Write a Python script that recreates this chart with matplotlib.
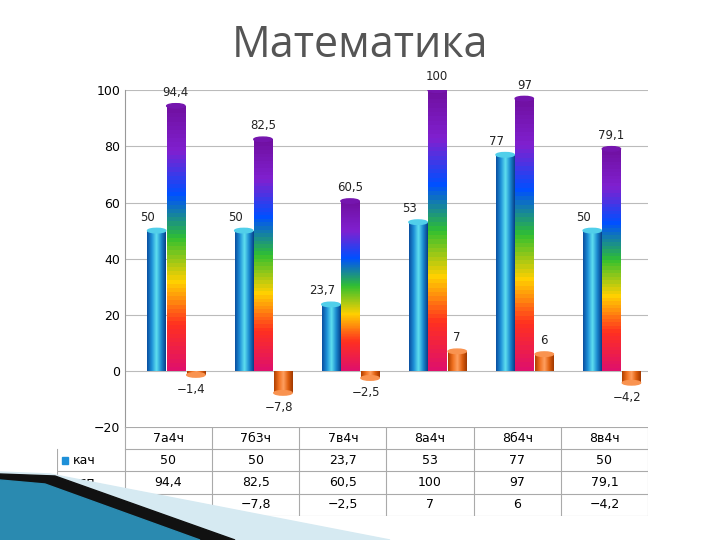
import matplotlib
matplotlib.use("Agg")
import matplotlib.pyplot as plt
import numpy as np
from matplotlib.colors import LinearSegmentedColormap
from matplotlib.patches import Polygon

categories = ["7а4ч", "7б3ч", "7в4ч", "8а4ч", "8б4ч", "8в4ч"]
kach = [50, 50, 23.7, 53, 77, 50]
usp = [94.4, 82.5, 60.5, 100, 97, 79.1]
raz = [-1.4, -7.8, -2.5, 7, 6, -4.2]
series_names = ["кач", "усп", "разница"]

def fmt(v):
    return (("%g" % v).replace(".", ",")).replace("-", "−")

fig = plt.figure(figsize=(7.2, 5.4), dpi=100)
fig.patch.set_facecolor("white")
ax = fig.add_axes([0.174, 0.209, 0.726, 0.624])
ax.set_yticks([-20, 0, 20, 40, 60, 80, 100])
ax.set_yticklabels([fmt(t) for t in [-20, 0, 20, 40, 60, 80, 100]], fontsize=9)
ax.set_xticks([])
for y in [0, 20, 40, 60, 80, 100]:
    ax.axhline(y, color="#bbbbbb", lw=0.8, zorder=0)
for s in ["top", "right", "bottom"]:
    ax.spines[s].set_visible(False)
ax.spines["left"].set_color("#999999")
ax.tick_params(axis="y", length=0)

cyl = LinearSegmentedColormap.from_list("c", ["#0a4fa0", "#1e90d8", "#5fe0f0", "#1a8ad0", "#083f8a"])
rain = LinearSegmentedColormap.from_list("r", ["#e0106a", "#ff3020", "#ffd000", "#30c030", "#0050ff", "#8020d0", "#7010a0"])
org = LinearSegmentedColormap.from_list("o", ["#b04000", "#f07020", "#ffa060", "#e06010", "#a03800"])
w = 0.21
offs = [-0.14, 0.08, 0.31]

def grad_bar(x, h, kind):
    lo, hi = min(0, h), max(0, h)
    if kind == 1:
        img = np.linspace(0, 1, 64).reshape(-1, 1)
        cm = rain
    else:
        img = np.linspace(0, 1, 64).reshape(1, -1)
        cm = cyl if kind == 0 else org
    bar = ax.bar(x, h, w, color="none", zorder=2)[0]
    im = ax.imshow(img, cmap=cm, extent=[x - w / 2, x + w / 2, lo, hi], aspect="auto", origin="lower", zorder=2)
    im.set_clip_path(bar)
    top = hi if h >= 0 else lo
    c = cm(0.55 if kind != 1 else 0.95)
    ax.add_patch(matplotlib.patches.Ellipse((x, top), w, 1.6, color=c, zorder=3))

for i in range(len(categories)):
    for k, vals in enumerate([kach, usp, raz]):
        x = i + offs[k]
        v = vals[i]
        grad_bar(x, v, k)
        if v >= 0:
            ax.text(x - (0.1 if k == 0 else 0), v + 2.5, fmt(v), ha="center", va="bottom", fontsize=8.5, color="#222222")
        else:
            ax.text(x - 0.05, v - 3, fmt(v), ha="center", va="top", fontsize=8.5, color="#222222")
ax.set_xlim(-0.5, len(categories) - 0.5)
ax.set_ylim(-20, 100)

fig.text(0.5, 0.915, "Математика", ha="center", va="center", fontsize=31, color="#555555", family="Open Sans")

# table
tax = fig.add_axes([0.079, 0.045, 0.821, 0.164])
n = len(categories)
lw_ = 0.78
tax.set_xlim(-lw_, n); tax.set_ylim(0, 4); tax.axis("off")
for r in range(4):
    tax.plot([-lw_ if r < 3 else 0, n], [r, r], color="#aaaaaa", lw=0.8)
tax.plot([0, n], [4, 4], color="#aaaaaa", lw=0.8)
for c in range(n + 1):
    tax.plot([c, c], [0, 4], color="#aaaaaa", lw=0.8)
tax.plot([-lw_, -lw_], [0, 3], color="#aaaaaa", lw=0.8)
for i, cat in enumerate(categories):
    tax.text(i + 0.5, 3.5, cat, ha="center", va="center", fontsize=9)
colors = ["#1e90d8", "#6040c0", "#f07020"]
for r, (name, vals) in enumerate(zip(series_names, [kach, usp, raz])):
    y = 2.5 - r
    tax.add_patch(matplotlib.patches.Rectangle((-0.72, y - 0.17), 0.07, 0.34, color=colors[r]))
    tax.text(-0.6, y, name, ha="left", va="center", fontsize=9)
    for i, v in enumerate(vals):
        tax.text(i + 0.5, y, fmt(v), ha="center", va="center", fontsize=9)

# decorative arrow
deco = fig.add_axes([0, 0, 1, 1], zorder=5); deco.axis("off"); deco.set_xlim(0, 720); deco.set_ylim(540, 0)
deco.add_patch(Polygon([[0, 540], [0, 472], [50, 474], [390, 540]], color="#d6eaf2"))
deco.add_patch(Polygon([[0, 540], [0, 474], [55, 476], [235, 540]], color="#111111"))
deco.add_patch(Polygon([[0, 540], [0, 480], [45, 484], [200, 540]], color="#2a8ab0"))
fig.savefig("out.png", dpi=100)
